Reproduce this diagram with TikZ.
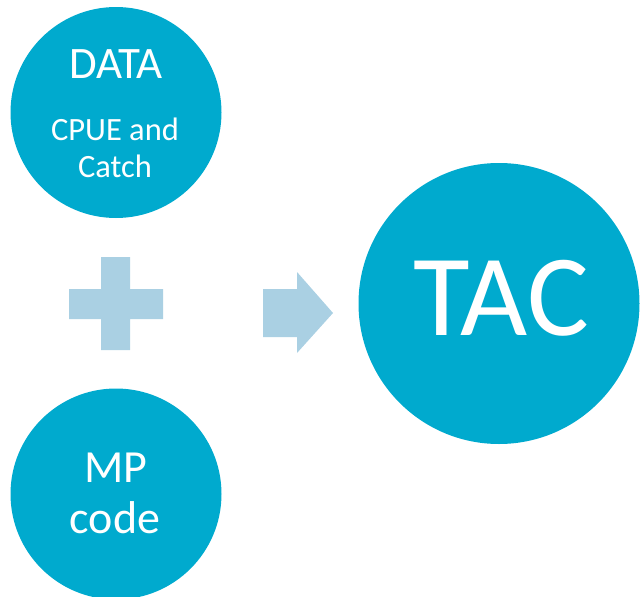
\documentclass[tikz,border=0pt]{standalone}
\usepackage{fontspec}
\setmainfont{Carlito}
\definecolor{dot}{RGB}{0,170,206}
\definecolor{pale}{RGB}{170,208,227}
\begin{document}
\begin{tikzpicture}[x=1pt,y=-1pt,
  disc/.style={circle,fill=dot,draw=none,inner sep=0pt},
  lbl/.style={text=white,anchor=base,inner sep=0pt},
  shapefill/.style={fill=pale,draw=none}]
\useasboundingbox (0,0) rectangle (643,597);
\node[disc,minimum size=211pt] (data) at (116,112.5) {};
\node[disc,minimum size=211pt] (mp) at (116,494) {};
\node[disc,minimum size=281pt] (tac) at (499,303.5) {};
\node[lbl,font=\fontsize{45}{45}\selectfont] (datat) at (116,78) {DATA};
\node[lbl,font=\fontsize{32.5}{32.5}\selectfont] (cpue) at (115,140) {CPUE and};
\node[lbl,font=\fontsize{32.5}{32.5}\selectfont] (catch) at (115,177) {Catch};
\node[lbl,font=\fontsize{46}{46}\selectfont] (mpt) at (116,482) {MP};
\node[lbl,font=\fontsize{46}{46}\selectfont] (code) at (115,533) {code};
\node[lbl,font=\fontsize{116}{116}\selectfont] (tact) at (501,335) {TAC};
% plus sign
\fill[shapefill] (69,289) -- (101,289) -- (101,257) -- (130,257) -- (130,289) -- (163,289)
  -- (163,319) -- (130,319) -- (130,350) -- (101,350) -- (101,319) -- (69,319) -- cycle;
% arrow
\fill[shapefill] (263,289) -- (297,289) -- (297,272) -- (333,313) -- (297,353) -- (297,337)
  -- (263,337) -- cycle;
\end{tikzpicture}
\end{document}
